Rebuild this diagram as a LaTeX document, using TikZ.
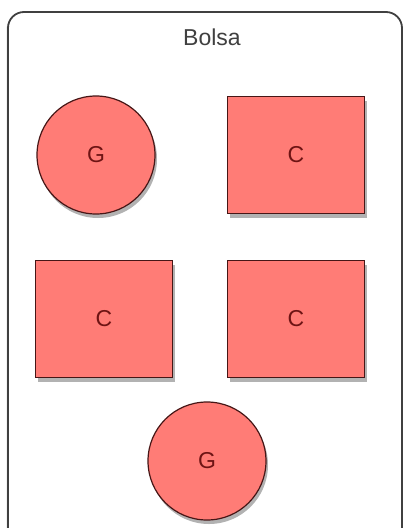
\documentclass[tikz,border=0pt]{standalone}
\usepackage{fontspec}
\setmainfont{Liberation Sans}
\usepackage{xcolor}
\usepackage{tikz}
\usetikzlibrary{shadows}
\definecolor{salmon}{RGB}{255,124,118}
\definecolor{edge}{RGB}{70,22,22}
\definecolor{ink}{RGB}{110,20,20}

\begin{document}
\begin{tikzpicture}[x=1pt,y=-1pt,font=\fontsize{23}{26}\selectfont,
      gnode/.style={circle,minimum size=118pt,draw=edge,line width=1.2pt,fill=salmon,text=ink,
        drop shadow={shadow xshift=2pt,shadow yshift=-4pt,opacity=.6}},
      cnode/.style={rectangle,minimum width=137pt,minimum height=117pt,draw=edge,line width=1.2pt,fill=salmon,text=ink,
        drop shadow={shadow xshift=2pt,shadow yshift=-4pt,opacity=.6}},
      hd/.style={text=black!75}]
    \useasboundingbox (0,0) rectangle (404,528);
    \clip (0,0) rectangle (404,528);
    \draw[draw=black!75,line width=1.8pt,rounded corners=16pt,fill=white,
      drop shadow={shadow xshift=-1.5pt,shadow yshift=-1.5pt,opacity=.3}] (8,12) rectangle (402,560);
    \node[hd] (bag) at (212,37) {Bolsa};
    \node[gnode] (g1) at (96,155)  {G};
    \node[cnode] (c1) at (296,155) {C};
    \node[cnode] (c2) at (104,319) {C};
    \node[cnode] (c3) at (296,319) {C};
    \node[gnode] (g2) at (207,461) {G};
  \end{tikzpicture}
\end{document}
